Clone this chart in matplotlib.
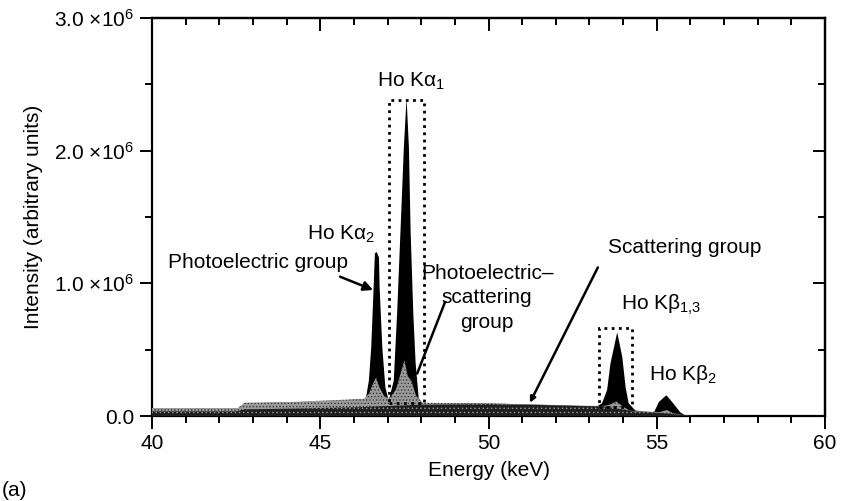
import matplotlib
matplotlib.use("Agg")
import matplotlib.pyplot as plt
from matplotlib.ticker import MultipleLocator, FixedLocator, FixedFormatter
from matplotlib.patches import Rectangle

plt.rcParams['font.family'] = ['Liberation Sans', 'DejaVu Sans']
plt.rcParams['mathtext.fontset'] = 'custom'
plt.rcParams['mathtext.rm'] = 'Liberation Sans'
plt.rcParams['mathtext.it'] = 'Liberation Sans'
plt.rcParams['mathtext.bf'] = 'Liberation Sans:bold'
plt.rcParams['hatch.linewidth'] = 0.6

# ---------------- data (intensity in units of 1e6) ----------------
# total spectrum envelope (photoelectric group, black)
total_e = [40.0, 42.55, 42.75, 44.0, 45.5, 46.2, 46.33, 46.43, 46.50, 46.56, 46.61, 46.66,
           46.73, 46.75, 46.83, 46.92, 47.02, 47.17, 47.27, 47.37, 47.47, 47.55, 47.62,
           47.67, 47.75, 47.82, 47.91, 48.01, 49.0, 50.5, 52.0, 53.2, 53.36, 53.51, 53.61,
           53.81, 53.96, 54.06, 54.15, 54.35, 54.90, 55.05, 55.27, 55.44, 55.69, 55.89, 60.0]
total_i = [0.060, 0.060, 0.100, 0.105, 0.120, 0.130, 0.120, 0.270, 0.520, 0.900, 1.230, 1.240,
           1.200, 0.970, 0.520, 0.220, 0.120, 0.270, 0.780, 1.400, 2.030, 2.400, 2.030,
           1.400, 0.780, 0.400, 0.140, 0.100, 0.100, 0.095, 0.085, 0.075, 0.100, 0.200, 0.400,
           0.635, 0.450, 0.220, 0.100, 0.045, 0.030, 0.110, 0.160, 0.110, 0.030, 0.000, 0.000]

# photoelectric-scattering group (grey)
pscat_e = [40.0, 42.55, 42.75, 44.0, 45.5, 46.3, 46.45, 46.58, 46.66, 46.75, 46.9, 47.05,
           47.25, 47.4, 47.5, 47.6, 47.7, 47.85, 48.05, 50.0, 53.4, 53.6, 53.8, 54.0, 54.2,
           55.1, 55.3, 55.5, 56.0, 60.0]
pscat_i = [0.060, 0.060, 0.100, 0.105, 0.120, 0.130, 0.170, 0.250, 0.290, 0.220, 0.150, 0.130,
           0.200, 0.330, 0.420, 0.300, 0.270, 0.150, 0.100, 0.095, 0.075, 0.085, 0.110, 0.070, 0.040,
           0.030, 0.045, 0.020, 0.000, 0.000]

# scattering group (dark)
scat_e = [40.0, 42.5, 42.75, 44.0, 46.0, 47.0, 48.0, 50.0, 52.0, 53.5, 54.3, 55.0, 55.8, 56.2, 60.0]
scat_i = [0.035, 0.035, 0.050, 0.055, 0.065, 0.075, 0.085, 0.090, 0.080, 0.070, 0.035, 0.025, 0.008, 0.0, 0.0]

x_ticks = [40, 45, 50, 55, 60]
y_ticks = [0.0, 1.0, 2.0, 3.0]
y_tick_labels = ["0.0", "1.0 ×10$^6$", "2.0 ×10$^6$", "3.0 ×10$^6$"]

# dotted boxes (energy range, intensity range)
box_ka1 = ([47.05, 48.07], [0.10, 2.38])
box_kb13 = ([53.27, 54.26], [0.07, 0.66])

S = 1e6
fig = plt.figure(figsize=(8.47, 5.01), dpi=100)
ax = fig.add_axes([152 / 847, 85 / 501, 673 / 847, 398 / 501])

ax.fill_between(total_e, 0, [v * S for v in total_i], color='black', lw=0, zorder=2)
ax.fill_between(pscat_e, 0, [v * S for v in pscat_i], facecolor='#9a9a9a', edgecolor='#3a3a3a',
                hatch='.....', lw=0, zorder=3)
ax.fill_between(scat_e, 0, [v * S for v in scat_i], facecolor='#1e1e1e', edgecolor='#8f8f8f',
                hatch='....', lw=0, zorder=4)

for (ex, iy) in (box_ka1, box_kb13):
    ax.add_patch(Rectangle((ex[0], iy[0] * S), ex[1] - ex[0], (iy[1] - iy[0]) * S,
                           fill=False, ls=(0, (1, 1.6)), lw=2.0, ec='black', zorder=6))

ax.set_xlim(40, 60)
ax.set_ylim(0, 3.0 * S)

ax.xaxis.set_major_locator(FixedLocator(x_ticks))
ax.xaxis.set_minor_locator(MultipleLocator(1))
ax.yaxis.set_major_locator(FixedLocator([v * S for v in y_ticks]))
ax.yaxis.set_major_formatter(FixedFormatter(y_tick_labels))
ax.yaxis.set_minor_locator(MultipleLocator(0.5 * S))
ax.tick_params(which='both', direction='out', width=1.4, labelsize=15, pad=4)
ax.tick_params(which='major', length=9)
ax.tick_params(which='minor', length=5)
for sp in ax.spines.values():
    sp.set_linewidth(1.6)

secx = ax.secondary_xaxis('top')
secx.xaxis.set_major_locator(FixedLocator(x_ticks))
secx.xaxis.set_minor_locator(MultipleLocator(1))
secx.tick_params(which='both', direction='in', labeltop=False, width=1.4)
secx.tick_params(which='major', length=9)
secx.tick_params(which='minor', length=5)
secy = ax.secondary_yaxis('right')
secy.yaxis.set_major_locator(FixedLocator([v * S for v in y_ticks]))
secy.yaxis.set_minor_locator(MultipleLocator(0.5 * S))
secy.tick_params(which='both', direction='in', labelright=False, width=1.4)
secy.tick_params(which='major', length=9)
secy.tick_params(which='minor', length=5)
for s in (secx, secy):
    for sp in s.spines.values():
        sp.set_linewidth(1.6)

ax.set_xlabel("Energy (keV)", fontsize=15, labelpad=6)
ax.set_ylabel("Intensity (arbitrary units)", fontsize=15, labelpad=8)

fs = 15
ax.text(45.62, 1.37 * S, "Ho Kα$_2$", fontsize=fs, ha='center', va='center')
ax.text(47.70, 2.52 * S, "Ho Kα$_1$", fontsize=fs, ha='center', va='center')
ax.text(43.16, 1.16 * S, "Photoelectric group", fontsize=fs, ha='center', va='center')
ax.text(49.96, 0.89 * S, "Photoelectric–\nscattering\ngroup", fontsize=fs, ha='center',
        va='center', linespacing=1.38)
ax.text(55.84, 1.27 * S, "Scattering group", fontsize=fs, ha='center', va='center')
ax.text(55.13, 0.84 * S, "Ho Kβ$_{1{,}3}$", fontsize=fs, ha='center', va='center')
ax.text(55.78, 0.31 * S, "Ho Kβ$_2$", fontsize=fs, ha='center', va='center')

ax.annotate("", xy=(46.57, 0.95 * S), xytext=(45.59, 1.05 * S),
            arrowprops=dict(arrowstyle='-|>', color='black', lw=1.8, mutation_scale=14,
                            shrinkA=0, shrinkB=0), zorder=7)
ax.annotate("", xy=(47.88, 0.32 * S), xytext=(48.71, 0.86 * S),
            arrowprops=dict(arrowstyle='-', color='black', lw=1.8, shrinkA=0, shrinkB=0), zorder=7)
ax.annotate("", xy=(51.23, 0.10 * S), xytext=(53.25, 1.12 * S),
            arrowprops=dict(arrowstyle='-|>', color='black', lw=1.8, mutation_scale=8,
                            shrinkA=0, shrinkB=0), zorder=7)

fig.text(2 / 847, 11 / 501, "(a)", fontsize=15, ha='left', va='center')

fig.savefig("out.png", dpi=100)
